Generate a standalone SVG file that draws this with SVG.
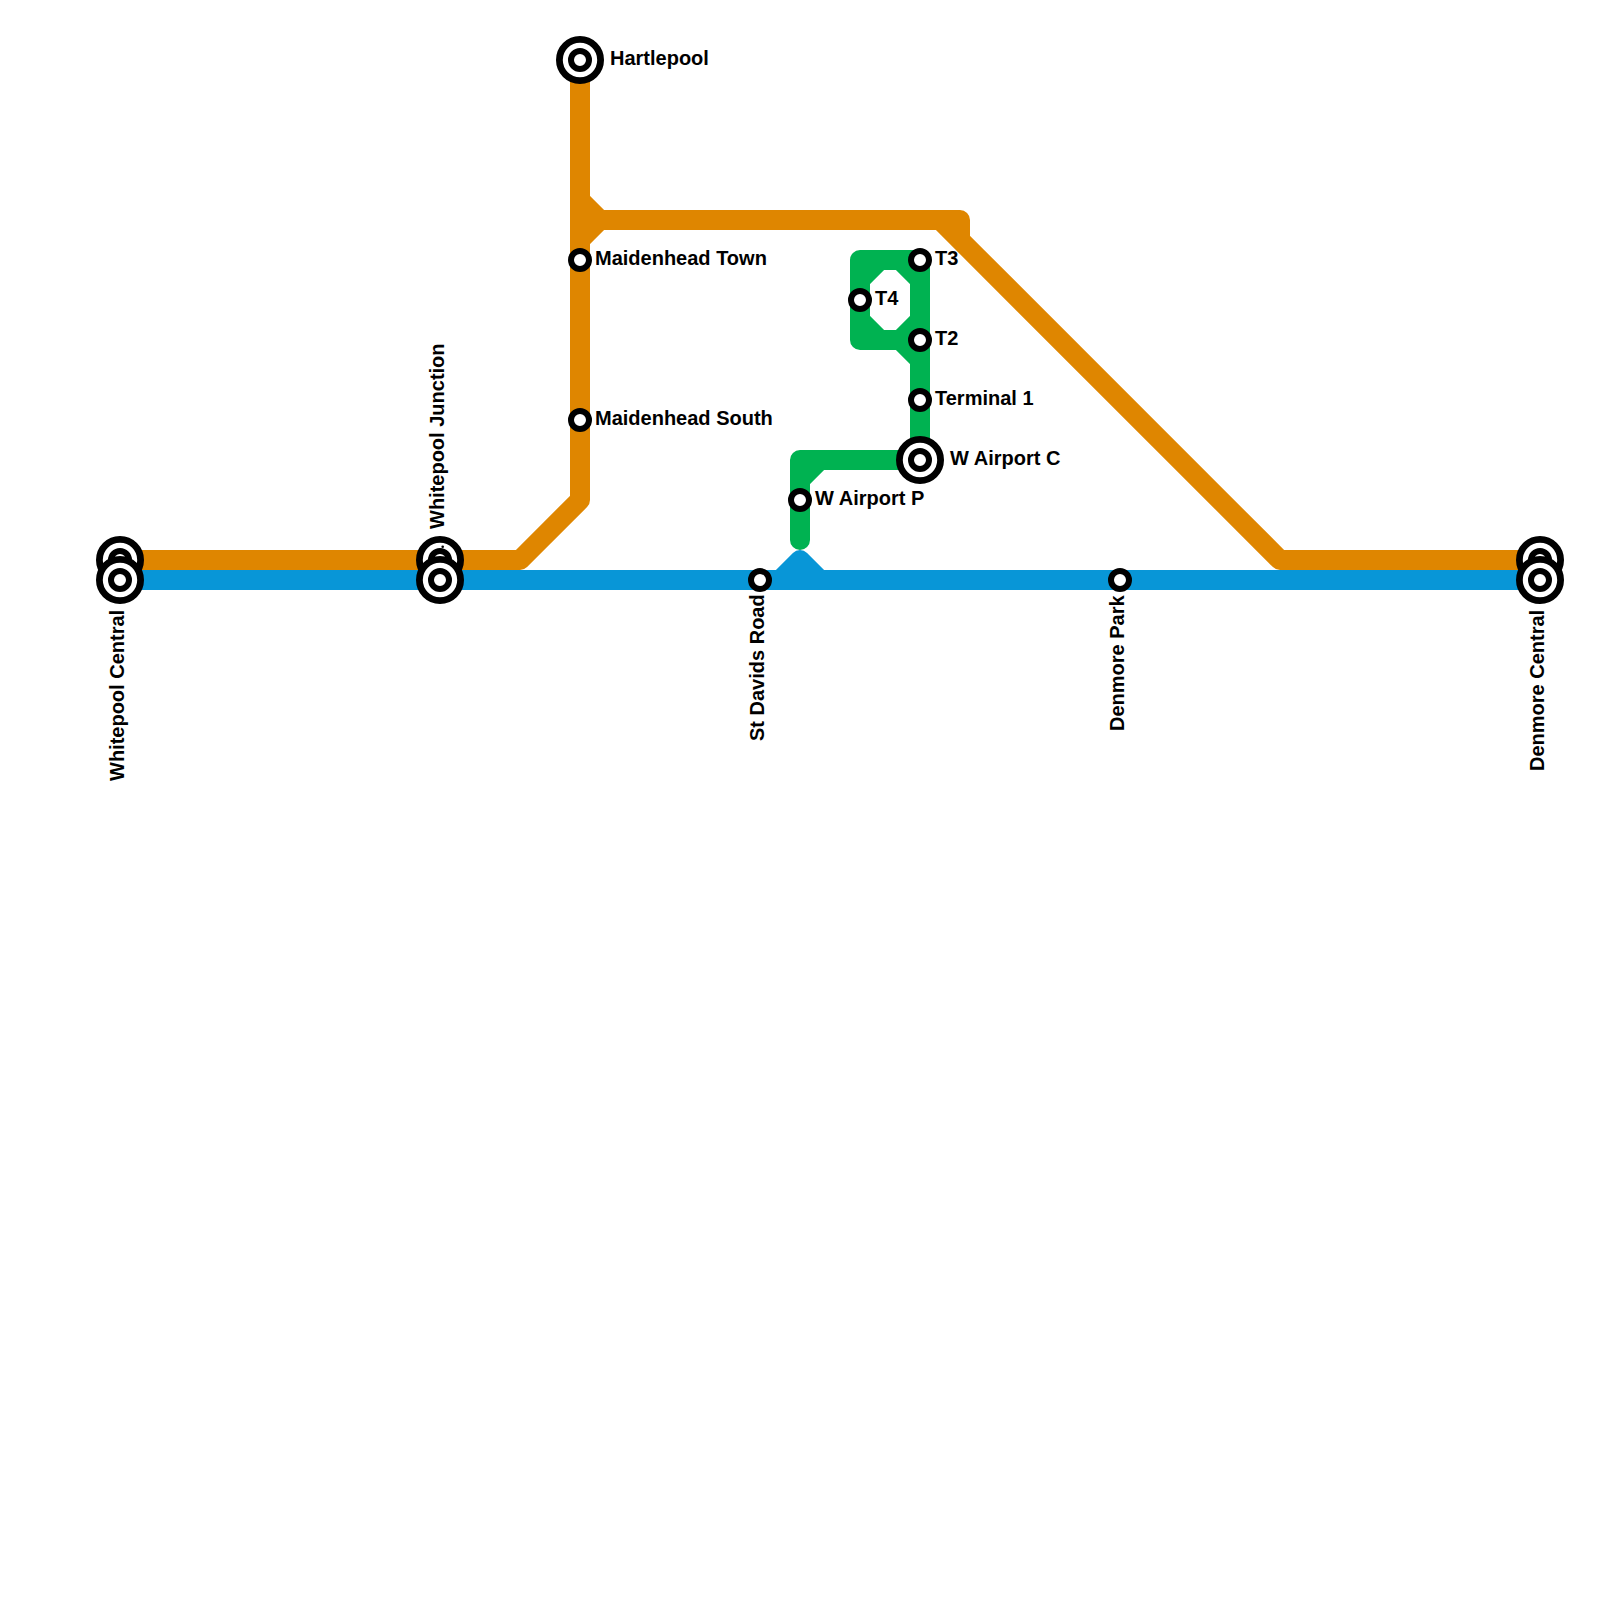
<svg xmlns="http://www.w3.org/2000/svg" width="1600" height="1600" viewBox="0 0 1600 1600">
<style>
.l{fill:none;stroke-width:20;stroke-linecap:round;stroke-linejoin:round}
.o{stroke:#DF8600}.b{stroke:#0896D7}.g{stroke:#00B251}
.s{fill:#fff;stroke:#000;stroke-width:6}
.r{fill:#fff;stroke:#000;stroke-width:6.8}
text{font-family:"Liberation Sans",Arial,sans-serif;font-weight:bold;font-size:20px;fill:#000}
</style>
<rect width="1600" height="1600" fill="#fff"/>
<g id="connectors">
<path class="l g" d="M860 280L880 260M900 260L920 280M920 320L900 340M880 340L860 320M920 360L900 340M800 480L820 460"/>
<path class="l g" d="M920 460V260H860V340H920M920 460H800V540"/>
<path class="l o" d="M120 560H520L580 500V60M580 200L600 220M580 240L600 220M580 220H960V240M940 220L1280 560H1540"/>
<path class="l b" d="M120 580H1540M780 580L800 560L820 580"/>
</g>
<g id="whitepool-central-upper"><circle class="r" cx="120" cy="560" r="20.6"/><circle class="s" cx="120" cy="560" r="9"/></g>
<g id="whitepool-central"><circle class="r" cx="120" cy="580" r="20.6"/><circle class="s" cx="120" cy="580" r="9"/><text transform="translate(124 781) rotate(-90)">Whitepool Central</text></g>
<g id="whitepool-junction-upper"><circle class="r" cx="440" cy="560" r="20.6"/><circle class="s" cx="440" cy="560" r="9"/><circle cx="442.7" cy="546.8" r="1.3"/><text transform="translate(444 529) rotate(-90)">Whitepool Junction</text></g>
<g id="whitepool-junction"><circle class="r" cx="440" cy="580" r="20.6"/><circle class="s" cx="440" cy="580" r="9"/></g>
<g id="hartlepool"><circle class="r" cx="580" cy="60" r="20.6"/><circle class="s" cx="580" cy="60" r="9"/><text x="610" y="65">Hartlepool</text></g>
<g id="maidenhead-town"><circle class="s" cx="580" cy="260" r="9"/><text x="595" y="265">Maidenhead Town</text></g>
<g id="maidenhead-south"><circle class="s" cx="580" cy="420" r="9"/><text x="595" y="425">Maidenhead South</text></g>
<g id="st-davids-road"><circle class="s" cx="760" cy="580" r="9"/><text transform="translate(764 741) rotate(-90)">St Davids Road</text></g>
<g id="w-airport-p"><circle class="s" cx="800" cy="500" r="9"/><text x="815" y="505">W Airport P</text></g>
<g id="t4"><circle class="s" cx="860" cy="300" r="9"/><text x="875" y="305">T4</text></g>
<g id="t3"><circle class="s" cx="920" cy="260" r="9"/><text x="935" y="265">T3</text></g>
<g id="t2"><circle class="s" cx="920" cy="340" r="9"/><text x="935" y="345">T2</text></g>
<g id="terminal-1"><circle class="s" cx="920" cy="400" r="9"/><text x="935" y="405">Terminal 1</text></g>
<g id="w-airport-c"><circle class="r" cx="920" cy="460" r="20.6"/><circle class="s" cx="920" cy="460" r="9"/><text x="950" y="465">W Airport C</text></g>
<g id="denmore-park"><circle class="s" cx="1120" cy="580" r="9"/><text transform="translate(1124 731) rotate(-90)">Denmore Park</text></g>
<g id="denmore-central-upper"><circle class="r" cx="1540" cy="560" r="20.6"/><circle class="s" cx="1540" cy="560" r="9"/></g>
<g id="denmore-central"><circle class="r" cx="1540" cy="580" r="20.6"/><circle class="s" cx="1540" cy="580" r="9"/><text transform="translate(1544 771) rotate(-90)">Denmore Central</text></g>
</svg>
